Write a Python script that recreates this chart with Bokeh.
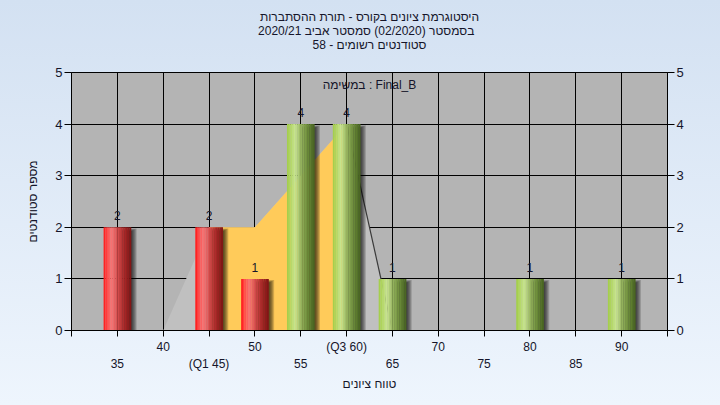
import numpy as np
from bokeh.plotting import figure
from bokeh.models import ColumnDataSource, FixedTicker, LinearAxis, Title, Label, Range1d
from bokeh.core.properties import value
from bokeh.embed import file_html
from bokeh.resources import INLINE

# ---------------- data ----------------
scores = [35, 45, 50, 55, 60, 65, 80, 90]
counts = [2, 2, 1, 4, 4, 1, 1, 1]
pass_score = 55
area_x = [40, 45, 50, 55, 60, 65]
area_y = [0, 2, 2, 3, 4, 0]
q1, q3 = 45, 60
row1_ticks = [40, 50, 60, 70, 80, 90]
row1_labels = ["40", "50", "(Q3 60)", "70", "80", "90"]
row2_ticks = [35, 45, 55, 65, 75, 85]
row2_labels = ["35", "(Q1 45)", "55", "65", "75", "85"]
y_ticks = [0, 1, 2, 3, 4, 5]
title_lines = ["היסטוגרמת ציונים בקורס - תורת ההסתברות",
               "בסמסטר  (02/2020)  סמסטר אביב 2020/21",
               "סטודנטים רשומים - 58"]
task_label = "במשימה : Final_B"
x_title = "טווח ציונים"
y_title = "מספר סטודנטים"

FONT = "Liberation Sans"
TXT = "#15152a"
W, H = 720, 405
ML, MR, MT, MB = 71, 53, 72, 75
X0, X1, Y0, Y1 = 30, 95, 0, 5
xpx = (X1 - X0) / (W - ML - MR)
ypx = (Y1 - Y0) / (H - MT - MB)
bar_w = 3

p = figure(width=W, height=H, x_range=Range1d(X0, X1), y_range=Range1d(Y0, Y1),
           output_backend="svg", toolbar_location=None,
           min_border_left=ML, min_border_right=MR, min_border_top=MT, min_border_bottom=MB,
           background_fill_color="#b4b4b4", border_fill_color=None,
           outline_line_color="black", outline_line_width=1)

# spacer between frame and the title block, then titles (innermost first)
p.add_layout(Title(text=" ", text_font=FONT, text_font_size="12px", standoff=6), "above")
for line in reversed(title_lines):
    t = Title(text=line, align="center", text_font=FONT, text_font_size="12px",
              text_font_style="normal", text_color=TXT, standoff=-2.5)
    p.add_layout(t, "above")

# grid
p.xgrid.ticker = FixedTicker(ticks=sorted(row1_ticks + row2_ticks))
p.ygrid.ticker = FixedTicker(ticks=y_ticks)
for g in (p.xgrid[0], p.ygrid[0]):
    g.grid_line_color = "black"
    g.grid_line_alpha = 1.0
    g.grid_line_width = 1

# area (cumulative-like shape) and Q1-Q3 band
p.patch(area_x, area_y, fill_color="#c0c0c0", line_color=None)
band = [(x, y) for x, y in zip(area_x, area_y) if q1 <= x <= q3]
bx = [band[0][0]] + [b[0] for b in band] + [band[-1][0]]
by = [0] + [b[1] for b in band] + [0]
p.patch(bx, by, fill_color="#ffcb5a", line_color=None)
tail = [(x, y) for x, y in zip(area_x, area_y) if x >= q3]
p.line([t[0] for t in tail], [t[1] for t in tail], line_color="#3a3a3a", line_width=1.2)

# shadows
for k in range(1, 6):
    p.quad(left=[s for s in scores],
           right=[s + bar_w / 2 + k * 1.1 * xpx for s in scores],
           top=[c - (7 - k) * 0.6 * ypx for c in counts],
           bottom=[0] * len(scores),
           fill_color="black", fill_alpha=0.18, line_color=None)

# cylinder bars
def interp(stops, t):
    for (t0, c0), (t1, c1) in zip(stops[:-1], stops[1:]):
        if t0 <= t <= t1:
            f = (t - t0) / (t1 - t0)
            c = [int(round(a + (b - a) * f)) for a, b in zip(c0, c1)]
            return "#%02x%02x%02x" % tuple(c)
    return "#%02x%02x%02x" % tuple(stops[-1][1])

red_stops = [(0.0, (255, 22, 22)), (0.12, (255, 70, 70)), (0.3, (245, 118, 118)),
             (0.5, (214, 78, 78)), (0.75, (170, 40, 40)), (1.0, (125, 20, 20))]
green_stops = [(0.0, (160, 204, 70)), (0.12, (178, 214, 98)), (0.3, (200, 228, 145)),
               (0.5, (152, 182, 96)), (0.75, (108, 140, 58)), (1.0, (70, 98, 32))]
N = 16
L, R, T, C = [], [], [], []
for s, c in zip(scores, counts):
    stops = red_stops if s < pass_score else green_stops
    for j in range(N):
        L.append(s - bar_w / 2 + j * bar_w / N)
        R.append(s - bar_w / 2 + (j + 1) * bar_w / N + 0.02)
        T.append(c)
        C.append(interp(stops, (j + 0.5) / N))
p.quad(source=ColumnDataSource(dict(left=L, right=R, top=T, bottom=[0] * len(L), color=C)),
       left="left", right="right", top="top", bottom="bottom",
       fill_color="color", line_color=None)

# value labels
p.text(x=scores, y=counts, text=[str(c) for c in counts], text_align="center",
       text_baseline="bottom", y_offset=-7, text_font=value(FONT), text_font_size="12px",
       text_color=TXT)

p.add_layout(Label(x=(X0 + X1) / 2, y=Y1, y_offset=-12, text=task_label, text_align="center",
                   text_baseline="middle", text_font=FONT, text_font_size="12px",
                   text_color=TXT))

# axes
def style_axis(ax):
    ax.axis_line_color = "black"
    ax.major_tick_line_color = "black"
    ax.minor_tick_line_color = None
    ax.major_tick_in = 0
    ax.major_label_text_font = FONT
    ax.major_label_text_font_size = "12px"
    ax.major_label_text_color = TXT
    ax.axis_label_text_font = FONT
    ax.axis_label_text_font_size = "12px"
    ax.axis_label_text_font_style = "normal"
    ax.axis_label_text_color = TXT

xa = p.xaxis[0]
style_axis(xa)
all_x = list(range(X0, X1 + 1, 5))
xa.ticker = FixedTicker(ticks=all_x)
ov = {t: "" for t in all_x}
ov.update({t: l for t, l in zip(row1_ticks, row1_labels)})
xa.major_label_overrides = ov
xa.major_tick_out = 6
xa.major_label_standoff = 3

xb = LinearAxis(ticker=FixedTicker(ticks=row2_ticks),
                major_label_overrides={t: l for t, l in zip(row2_ticks, row2_labels)})
style_axis(xb)
xb.axis_line_color = None
xb.major_tick_line_color = None
xb.major_tick_out = 0
xb.major_label_standoff = 0
xb.axis_label = x_title
xb.axis_label_standoff = 3
p.add_layout(xb, "below")

ya = p.yaxis[0]
style_axis(ya)
ya.major_label_text_font_size = "13px"
ya.ticker = FixedTicker(ticks=y_ticks)
ya.major_tick_out = 7
ya.major_label_standoff = 2
ya.axis_label = y_title
ya.axis_label_standoff = 12

yr = LinearAxis(ticker=FixedTicker(ticks=y_ticks))
style_axis(yr)
yr.major_label_text_font_size = "13px"
yr.major_tick_out = 7
yr.major_label_standoff = 2
p.add_layout(yr, "right")

html = None
try:
    from jinja2 import Template
    tmpl = Template("""{% extends base %}
{% block postamble %}<style>html{height:100%;background:linear-gradient(#d3e1f2,#eef5fd) !important;} body{background:transparent !important;}</style>{% endblock %}""")
    html = file_html(p, INLINE, template=tmpl)
except Exception:
    html = None
if html is None:
    html = file_html(p, INLINE)
open("out.html", "w").write(html)
